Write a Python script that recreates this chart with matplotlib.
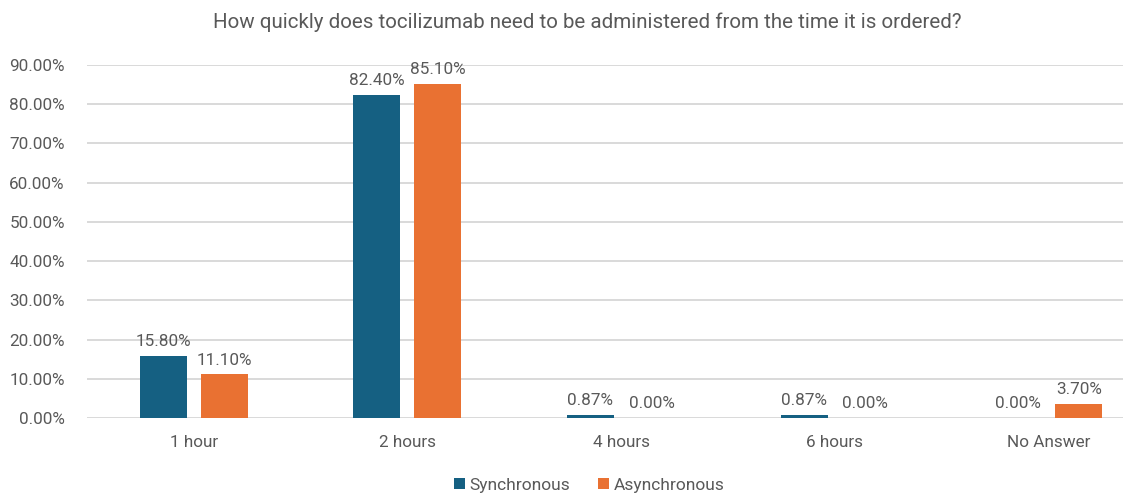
import matplotlib.pyplot as plt
import numpy as np
from matplotlib.ticker import FuncFormatter

plt.rcParams['font.family'] = ['Roboto', 'DejaVu Sans']

categories = ['1 hour', '2 hours', '4 hours', '6 hours', 'No Answer']
synchronous = [15.80, 82.40, 0.87, 0.87, 0.00]
asynchronous = [11.10, 85.10, 0.00, 0.00, 3.70]
yticks = [0, 10, 20, 30, 40, 50, 60, 70, 80, 90]

blue = '#156082'
orange = '#E97132'
grey = '#595959'

fig = plt.figure(figsize=(11.23, 4.94), dpi=100)
ax = fig.add_axes([0.0775, 0.1538, 0.9225, 0.7146])

x = np.arange(len(categories))
w = 0.22
off = 0.143
b1 = ax.bar(x - off, synchronous, w, color=blue, label='Synchronous', zorder=3)
b2 = ax.bar(x + off, asynchronous, w, color=orange, label='Asynchronous', zorder=3)

for bars, vals in [(b1, synchronous), (b2, asynchronous)]:
    for b, v in zip(bars, vals):
        ax.annotate('%.2f%%' % v, (b.get_x() + b.get_width() / 2, v),
                    xytext=(0, 5), textcoords='offset points',
                    ha='center', va='bottom', fontsize=12.3, color=grey)

ax.set_xlim(-0.5, 4.35)
ax.set_ylim(0, 90)
ax.set_yticks(yticks)
ax.yaxis.set_major_formatter(FuncFormatter(lambda v, p: '%.2f%%' % v))
ax.set_xticks(x)
ax.set_xticklabels(categories)
ax.tick_params(axis='both', length=0, labelsize=12.3, labelcolor=grey)
ax.tick_params(axis='x', pad=12)
ax.tick_params(axis='y', pad=16)
ax.grid(axis='y', color='#d9d9d9', linewidth=1.4, zorder=0)
for s in ax.spines.values():
    s.set_visible(False)

fig.suptitle('How quickly does tocilizumab need to be administered from the time it is ordered?',
             x=0.523, y=0.975, fontsize=14.8, color=grey)

fig.legend(loc='center', bbox_to_anchor=(0.525, 0.017), ncol=2, frameon=False,
           fontsize=12.5, labelcolor=grey, handlelength=0.6, handleheight=0.6,
           handletextpad=0.3, columnspacing=1.6)

fig.savefig('out.png', dpi=100)
